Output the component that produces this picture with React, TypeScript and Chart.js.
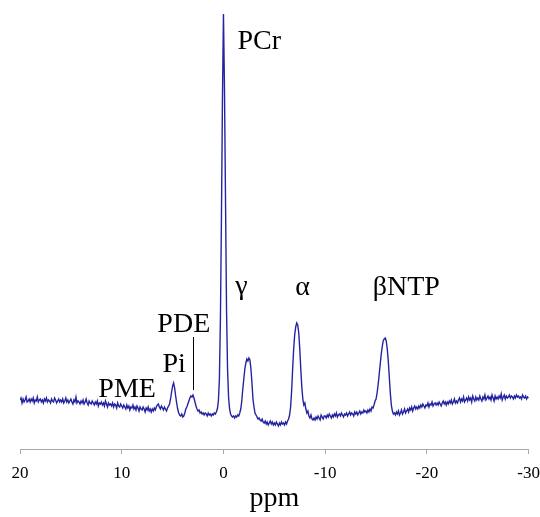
import React, { useEffect, useRef } from "react";
import { Chart, registerables } from "chart.js";

Chart.register(...registerables);

// Chemical shift grid: 20 ppm down to -30 ppm, 0.1 ppm step
const PPM_START = 20;
const PPM_STEP = 0.1;

// Signal intensity (arbitrary units), one row per ppm
const intensity: number[] = [
  49, 51, 46, 50, 47, 49, 52, 47, 48, 50, // 20
  47, 50, 48, 51, 46, 49, 48, 52, 47, 49, // 19
  50, 47, 49, 46, 50, 48, 51, 47, 49, 48, // 18
  46, 50, 48, 47, 51, 49, 46, 48, 50, 47, // 17
  49, 47, 50, 46, 48, 51, 47, 49, 46, 48, // 16
  50, 47, 45, 49, 47, 52, 46, 48, 47, 45, // 15
  48, 46, 49, 45, 47, 50, 46, 44, 48, 46, // 14
  45, 48, 46, 44, 47, 45, 48, 43, 46, 45, // 13
  47, 44, 46, 43, 48, 45, 42, 46, 44, 45, // 12
  43, 46, 42, 45, 44, 41, 46, 43, 42, 45, // 11
  43, 41, 44, 42, 40, 44, 41, 43, 39, 42, // 10
  41, 44, 40, 42, 39, 43, 41, 38, 42, 40, // 9
  39, 42, 40, 37, 41, 39, 42, 38, 40, 37, // 8
  40, 38, 41, 39, 42, 44, 45, 42, 40, 43, // 7
  41, 39, 42, 40, 38, 41, 43, 45, 50, 57, // 6
  63, 66, 61, 53, 46, 40, 36, 34, 33, 35, // 5
  32, 33, 36, 40, 42, 45, 48, 51, 53, 52, // 4
  54, 51, 47, 43, 40, 38, 39, 36, 37, 35, // 3
  36, 34, 36, 35, 33, 36, 34, 35, 33, 35, // 2
  34, 36, 35, 37, 40, 48, 70, 130, 230, 350, // 1
  435, 360, 250, 140, 80, 52, 40, 35, 33, 32, // 0
  33, 31, 33, 32, 34, 33, 36, 40, 48, 60, // -1
  70, 80, 86, 90, 88, 91, 89, 80, 66, 50, // -2
  42, 36, 34, 32, 30, 31, 29, 28, 30, 27, // -3
  26, 28, 25, 27, 24, 26, 28, 25, 27, 24, // -4
  26, 24, 27, 25, 23, 26, 24, 27, 25, 26, // -5
  24, 27, 25, 28, 30, 34, 42, 58, 80, 100, // -6
  114, 122, 126, 124, 116, 100, 80, 62, 50, 44, // -7
  46, 40, 36, 38, 33, 31, 34, 30, 29, 31, // -8
  29, 32, 30, 33, 31, 29, 34, 32, 30, 33, // -9
  33, 31, 34, 32, 35, 33, 31, 34, 32, 35, // -10
  33, 36, 32, 34, 35, 33, 36, 34, 32, 35, // -11
  34, 36, 33, 35, 37, 34, 36, 35, 33, 37, // -12
  35, 37, 34, 36, 38, 35, 37, 36, 39, 37, // -13
  38, 36, 39, 37, 40, 38, 42, 41, 44, 48, // -14
  50, 56, 64, 74, 84, 94, 102, 108, 110, 111, // -15
  108, 100, 88, 72, 56, 44, 38, 35, 36, 34, // -16
  37, 35, 38, 34, 36, 39, 35, 37, 40, 36, // -17
  38, 40, 37, 41, 39, 42, 38, 41, 43, 40, // -18
  42, 40, 43, 41, 44, 42, 45, 43, 41, 44, // -19
  43, 46, 42, 45, 44, 47, 43, 45, 46, 44, // -20
  46, 44, 47, 45, 43, 46, 48, 45, 47, 44, // -21
  47, 45, 48, 46, 49, 45, 47, 50, 46, 48, // -22
  46, 49, 51, 47, 50, 48, 52, 47, 49, 51, // -23
  48, 52, 49, 51, 47, 53, 50, 48, 52, 49, // -24
  51, 49, 53, 50, 48, 52, 50, 54, 49, 51, // -25
  53, 50, 52, 49, 54, 51, 48, 53, 50, 52, // -26
  50, 53, 51, 55, 49, 52, 54, 50, 53, 51, // -27
  52, 54, 51, 53, 52, 50, 53, 51, 54, 52, // -28
  53, 51, 52, 50, 54, 52, 51, 53, 50, 52, // -29
  51, // -30
];

// Peak labels: text, ppm, intensity (baseline of text), alignment
const labelTexts = ["PCr", "γ", "α", "βNTP", "PDE", "Pi", "PME"];
const labelPpm = [-1.38, -1.77, -7.78, -14.67, 6.5, 6.0, 12.3];
const labelLevel = [400, 155, 154, 154, 117, 77, 52];
const labelAlign: CanvasTextAlign[] = ["left", "center", "center", "left", "left", "left", "left"];

// PDE marker line: ppm, from/to intensity
const markerPpm = 2.95;
const markerFrom = 59;
const markerTo = 112;

const xTicks = [20, 10, 0, -10, -20, -30];

const SERIF = "'Liberation Serif', 'Times New Roman', serif";

const labelPlugin = {
  id: "peakLabels",
  afterDatasetsDraw(chart: any) {
    const { ctx, scales } = chart;
    const x = scales.x;
    const y = scales.y;
    ctx.save();
    ctx.fillStyle = "#000";
    ctx.font = `28px ${SERIF}`;
    ctx.textBaseline = "alphabetic";
    labelTexts.forEach((t, i) => {
      ctx.textAlign = labelAlign[i];
      ctx.fillText(t, x.getPixelForValue(labelPpm[i]), y.getPixelForValue(labelLevel[i]));
    });
    ctx.strokeStyle = "#000";
    ctx.lineWidth = 1;
    const mx = Math.round(x.getPixelForValue(markerPpm)) + 0.5;
    ctx.beginPath();
    ctx.moveTo(mx, y.getPixelForValue(markerFrom));
    ctx.lineTo(mx, y.getPixelForValue(markerTo));
    ctx.stroke();
    ctx.restore();
  },
};

export default function App() {
  const ref = useRef<HTMLCanvasElement | null>(null);

  useEffect(() => {
    document.body.style.margin = "0";
    if (!ref.current) return;
    const points = intensity.map((v, i) => ({ x: PPM_START - i * PPM_STEP, y: v }));
    const chart = new Chart(ref.current, {
      type: "line",
      data: {
        datasets: [
          {
            data: points,
            borderColor: "#2424a0",
            borderWidth: 1.4,
            pointRadius: 0,
            tension: 0,
            fill: false,
          },
        ],
      },
      options: {
        animation: false,
        responsive: false,
        maintainAspectRatio: false,
        parsing: false,
        layout: { padding: { left: 20, right: 4, top: 10, bottom: 0 } },
        plugins: {
          legend: { display: false },
          tooltip: { enabled: false },
        },
        scales: {
          x: {
            type: "linear",
            reverse: true,
            min: -30,
            max: 20,
            afterBuildTicks: (axis: any) => {
              axis.ticks = xTicks.map((v) => ({ value: v }));
            },
            afterFit: (axis: any) => {
              axis.height = 68;
            },
            grid: {
              drawOnChartArea: false,
              drawTicks: true,
              tickLength: 5,
              color: "#aaa",
            },
            border: { display: true, color: "#aaa", width: 1 },
            ticks: {
              color: "#000",
              font: { family: SERIF, size: 17, lineHeight: 2.3 },
              padding: 0,
              maxRotation: 0,
              autoSkip: false,
            },
            title: {
              display: true,
              text: "ppm",
              color: "#000",
              font: { family: SERIF, size: 28, lineHeight: 1 },
              padding: { top: 0, bottom: 4 },
            },
          },
          y: {
            type: "linear",
            display: false,
            min: 0,
            max: 439,
          },
        },
      },
      plugins: [labelPlugin],
    });
    return () => chart.destroy();
  }, []);

  return (
    <div style={{ width: 540, height: 517, background: "#fff" }}>
      <canvas ref={ref} width={540} height={517} style={{ display: "block" }} />
    </div>
  );
}
